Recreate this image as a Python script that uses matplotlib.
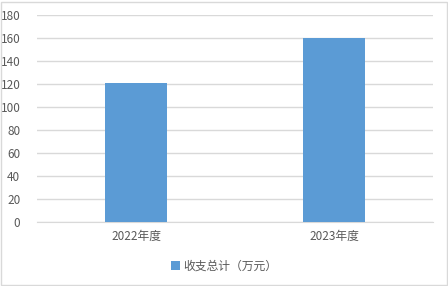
import matplotlib.pyplot as plt
from matplotlib.patches import Rectangle

plt.rcParams['font.family'] = ['Noto Sans CJK SC', 'DejaVu Sans']

categories = ['2022年度', '2023年度']
values = [121, 160]
series_name = '收支总计（万元）'
y_ticks = [0, 20, 40, 60, 80, 100, 120, 140, 160, 180]

W, H = 448, 286
fig = plt.figure(figsize=(W / 100, H / 100), dpi=100)
ax = fig.add_axes([37 / W, (H - 222) / H, (433 - 37) / W, (222 - 15) / H])

x = list(range(len(categories)))
ax.bar(x, values, width=0.31, color='#5b9bd5', label=series_name, zorder=3)

ax.set_xlim(-0.5, len(categories) - 0.5)
ax.set_ylim(0, 180)
ax.set_yticks(y_ticks)
ax.set_xticks(x)
ax.set_xticklabels(categories)
ax.grid(axis='y', color='#d9d9d9', linewidth=1, zorder=0)
for s in ['top', 'right', 'left']:
    ax.spines[s].set_visible(False)
ax.spines['bottom'].set_color('#d9d9d9')
ax.tick_params(axis='both', length=0, colors='#595959', labelsize=8.5)
ax.tick_params(axis='y', pad=12)
ax.tick_params(axis='x', pad=6)

fig.legend(loc='center', bbox_to_anchor=(0.5, (H - 266) / H), frameon=False,
           fontsize=8.5, handlelength=0.8, handleheight=0.8, handletextpad=0.3,
           labelcolor='#595959')

# light gray chart frame
fig.patches.append(Rectangle((1 / W, 1.5 / H), 1 - 2.5 / W, 1 - 3 / H,
                             transform=fig.transFigure, fill=False,
                             edgecolor='#d9d9d9', linewidth=1))

fig.savefig('out.png', dpi=100)
